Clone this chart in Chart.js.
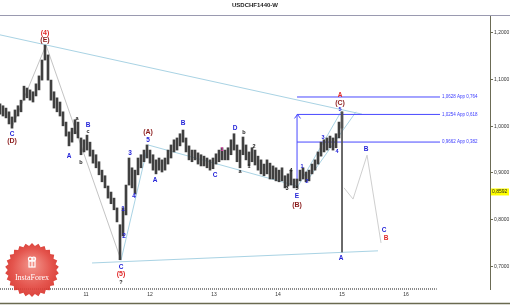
<!DOCTYPE html>
<html><head><meta charset="utf-8">
<script src="https://cdn.jsdelivr.net/npm/chart.js@4.4.1/dist/chart.umd.min.js"></script>
<style>html,body{margin:0;padding:0;background:#fff;overflow:hidden}canvas{display:block}</style>
</head><body>
<canvas id="c" width="510" height="305"></canvas>
<script>
const chartTitle = 'USDCHF1440-W';
const startYear = 2009.656;
const yearStep = 0.046875;
const highs = [1.048,1.044,1.039,1.031,1.020,1.035,1.044,1.056,1.086,1.082,
  1.078,1.074,1.091,1.108,1.142,1.174,1.153,1.099,1.074,1.061,
  1.052,1.031,1.009,0.988,0.996,1.014,1.009,0.975,0.971,0.981,
  0.966,0.949,0.939,0.924,0.906,0.894,0.872,0.859,0.846,0.825,
  0.789,0.825,0.874,0.932,0.911,0.906,0.932,0.939,0.949,0.960,
  0.949,0.939,0.928,0.932,0.928,0.932,0.949,0.960,0.971,0.975,
  0.984,0.992,0.975,0.958,0.949,0.949,0.943,0.939,0.936,0.932,
  0.928,0.932,0.941,0.949,0.954,0.949,0.954,0.971,0.984,0.960,
  0.949,0.977,0.960,0.945,0.954,0.949,0.936,0.928,0.919,0.928,
  0.921,0.915,0.911,0.906,0.911,0.894,0.898,0.906,0.887,0.887,
  0.906,0.911,0.902,0.906,0.919,0.928,0.945,0.966,0.971,0.975,
  0.979,0.975,0.984,1.009,1.031];
const lows = [1.026,1.022,1.018,1.005,0.996,1.009,1.022,1.031,1.056,1.061,
  1.056,1.052,1.065,1.078,1.099,1.142,1.099,1.056,1.039,1.031,
  1.022,1.001,0.979,0.958,0.966,0.984,0.975,0.939,0.945,0.949,
  0.936,0.921,0.911,0.896,0.881,0.868,0.846,0.834,0.821,0.795,
  0.714,0.765,0.810,0.874,0.868,0.855,0.896,0.911,0.924,0.932,
  0.921,0.906,0.898,0.906,0.902,0.906,0.919,0.932,0.945,0.949,
  0.958,0.966,0.945,0.928,0.924,0.928,0.919,0.915,0.915,0.911,
  0.906,0.909,0.919,0.924,0.928,0.928,0.928,0.939,0.949,0.924,
  0.911,0.939,0.928,0.915,0.924,0.917,0.906,0.898,0.894,0.898,
  0.887,0.887,0.883,0.881,0.883,0.868,0.872,0.874,0.868,0.868,
  0.883,0.887,0.881,0.883,0.898,0.906,0.919,0.936,0.945,0.949,
  0.954,0.949,0.954,0.975,0.996];
const yearTicks = [2011,2012,2013,2014,2015,2016];
const priceTicks = [0.7,0.8,0.9,1.0,1.1,1.2];
const lastPrice = 0.8592;
const fibLevels = [1.0628,1.0254,0.9662];
const fibTexts = ['1,0628 App 0,764','1,0254 App 0,618','0,9662 App 0,382'];
const fibStart = 2014.297, fibEnd = 2016.531, fibBase = 0.868;
const blueTrends = [
  [[2009.656,1.196],[2015.312,1.026]],
  [[2011.547,0.713],[2011.969,0.960]],
  [[2011.969,0.960],[2014.297,0.872]],
  [[2014.297,0.868],[2014.984,1.031]],
  [[2014.453,0.883],[2015.219,1.031]],
  [[2011.094,0.707],[2015.562,0.733]]
];
const greyTrends = [
  [[2009.844,0.998],[2010.375,1.174]],
  [[2010.375,1.174],[2011.547,0.713]]
];
const projection = [[2015.031,0.868],[2015.172,0.844],[2015.391,0.938],[2015.609,0.750]];
const markerLine = [[2015.0,1.031],[2015.0,0.730]];
// label: text, year, price, colour key, size key
const waveLabels = [
  ['(4)',2010.359,1.200,'r','L'],['(E)',2010.359,1.185,'d','L'],
  ['C',2009.844,0.983,'b','M'],['(D)',2009.844,0.968,'d','L'],
  ['A',2010.734,0.936,'b','M'],['a',2010.859,1.016,'k','S'],
  ['B',2011.031,1.002,'b','M'],['c',2011.031,0.988,'k','S'],['b',2010.922,0.923,'k','S'],
  ['3',2011.688,0.943,'b','M'],['4',2011.750,0.851,'b','M'],['1',2011.578,0.823,'b','M'],['2',2011.594,0.765,'b','M'],
  ['C',2011.547,0.698,'b','M'],['(5)',2011.547,0.683,'r','L'],['?',2011.547,0.666,'k','S'],
  ['(A)',2011.969,0.988,'d','L'],['5',2011.969,0.971,'b','M'],
  ['A',2012.078,0.885,'b','M'],['B',2012.516,1.007,'b','M'],['C',2013.016,0.896,'b','M'],
  ['1',2013.125,0.950,'p','S'],
  ['D',2013.328,0.996,'b','M'],['a',2013.406,0.904,'k','S'],['b',2013.469,0.986,'k','S'],
  ['1',2013.547,0.913,'k','S'],['2',2013.625,0.956,'k','S'],
  ['3',2014.141,0.866,'k','S'],['4',2014.203,0.906,'k','S'],['5',2014.297,0.866,'k','S'],
  ['E',2014.297,0.851,'b','M'],['(B)',2014.297,0.831,'d','L'],
  ['1',2014.375,0.913,'b','S'],['2',2014.453,0.881,'b','S'],['3',2014.703,0.975,'b','S'],
  ['4',2014.922,0.947,'b','S'],['5',2014.969,1.037,'b','S'],
  ['A',2014.969,1.067,'r','M'],['(C)',2014.969,1.050,'d','L'],
  ['B',2015.375,0.951,'b','M'],['C',2015.656,0.778,'b','M'],['B',2015.688,0.761,'r','M'],
  ['A',2014.984,0.718,'b','M']
];
const colours = {r:'#e02828', d:'#8b1c1c', b:'#2424d8', k:'#222222', p:'#ff40c0'};
const sizes = {L:'bold 7px "Liberation Sans"', M:'bold 6.5px "Liberation Sans"', S:'bold 5.5px "Liberation Sans"'};

const pts = a => a.map(p => ({x:p[0], y:p[1]}));
const datasets = [{
  type:'bar',
  data: highs.map((h,i)=>({x:startYear + i*yearStep, y:[lows[i], h]})),
  backgroundColor:'#404040', barThickness:2, borderWidth:0, order:1
}];
blueTrends.forEach(l=>datasets.push({type:'line',data:pts(l),borderColor:'#a9d3e4',borderWidth:1,pointRadius:0,fill:false,order:3}));
greyTrends.forEach(l=>datasets.push({type:'line',data:pts(l),borderColor:'#c4c4c4',borderWidth:1,pointRadius:0,fill:false,order:3}));
datasets.push({type:'line',data:pts(projection),borderColor:'#cfcfcf',borderWidth:1,pointRadius:0,fill:false,tension:0,order:3});
datasets.push({type:'line',data:pts(markerLine),borderColor:'#555555',borderWidth:1,pointRadius:0,fill:false,order:0});
fibLevels.forEach(v=>datasets.push({type:'line',data:[{x:fibStart,y:v},{x:fibEnd,y:v}],borderColor:'#4848ff',borderWidth:1,pointRadius:0,fill:false,order:2}));
datasets.push({type:'line',data:[{x:fibStart,y:fibBase},{x:fibStart,y:fibLevels[1]}],borderColor:'#4848ff',borderWidth:1,pointRadius:0,fill:false,order:2});

const fmt = v => v.toFixed(4).replace('.',',');

const decor = {
  id:'decor',
  beforeDraw(chart){
    const c = chart.ctx;
    c.save(); c.fillStyle='#ffffff'; c.fillRect(0,0,chart.width,chart.height); c.restore();
  },
  afterDatasetsDraw(chart){
    const c = chart.ctx, xs = chart.scales.x, ys = chart.scales.y, a = chart.chartArea;
    c.save();
    // arrow head on fib vertical
    const ax = Math.round(xs.getPixelForValue(fibStart))+0.5, ay = ys.getPixelForValue(fibLevels[1]);
    c.strokeStyle='#4848ff'; c.lineWidth=1;
    c.beginPath(); c.moveTo(ax-3,ay+4); c.lineTo(ax,ay); c.lineTo(ax+3,ay+4); c.stroke();
    // fib texts
    c.font='4.5px "Liberation Sans"'; c.fillStyle='#3a3aff'; c.textAlign='left'; c.textBaseline='middle';
    fibLevels.forEach((v,i)=>c.fillText(fibTexts[i], xs.getPixelForValue(fibEnd)+2, ys.getPixelForValue(v)));
    // wave labels
    c.textAlign='center';
    waveLabels.forEach(l=>{
      c.font = sizes[l[4]]; c.fillStyle = colours[l[3]];
      c.fillText(l[0], xs.getPixelForValue(l[1]), ys.getPixelForValue(l[2]));
    });
    c.restore();
  },
  afterDraw(chart){
    const c = chart.ctx, xs = chart.scales.x, ys = chart.scales.y, a = chart.chartArea;
    c.save();
    // title
    c.font='bold 6px "Liberation Sans"'; c.fillStyle='#222'; c.textAlign='center'; c.textBaseline='middle';
    c.fillText(chartTitle, 255, 5);
    // separator
    c.strokeStyle='#9a9ab0'; c.lineWidth=1;
    c.beginPath(); c.moveTo(0,a.top-0.5); c.lineTo(chart.width,a.top-0.5); c.stroke();
    // hatched x axis
    c.strokeStyle='#8a8a8a'; c.setLineDash([1,1]); c.lineWidth=2;
    c.beginPath(); c.moveTo(0,a.bottom); c.lineTo(xs.getPixelForValue(2016.48),a.bottom); c.stroke();
    c.setLineDash([]);
    // bottom border
    c.strokeStyle='#6a6a50'; c.lineWidth=1.5;
    c.beginPath(); c.moveTo(0,chart.height-1.5); c.lineTo(chart.width,chart.height-1.5); c.stroke();
    // last price label
    const py = ys.getPixelForValue(lastPrice);
    c.fillStyle='#ffff00'; c.fillRect(a.right+1, py-3.5, 18, 7);
    c.font='5px "Liberation Sans"'; c.fillStyle='#222'; c.textAlign='left';
    c.fillText(fmt(lastPrice), a.right+2, py);
    // logo
    const cx=32, cy=270, r=27;
    c.beginPath();
    const n=26;
    for(let i=0;i<n*2;i++){const ang=i*Math.PI/n; const rr=i%2?r:r*0.9; c.lineTo(cx+rr*Math.cos(ang), cy+rr*Math.sin(ang));}
    c.closePath();
    const g=c.createRadialGradient(cx,cy-6,2,cx,cy,r);
    g.addColorStop(0,'#f0867c'); g.addColorStop(0.7,'#e2463e'); g.addColorStop(1,'#d8342c');
    c.globalAlpha=0.92; c.fillStyle=g; c.fill(); c.globalAlpha=1;
    c.fillStyle='#ffffff'; c.font='8px "Liberation Serif"'; c.textAlign='center'; c.textBaseline='middle';
    c.fillText('InstaForex', cx, cy+8);
    c.strokeStyle='#ffffff'; c.lineWidth=1.2;
    c.strokeRect(cx-3, cy-9, 6, 6);
    c.beginPath(); c.moveTo(cx, cy-9); c.lineTo(cx, cy-3); c.stroke();
    c.beginPath(); c.arc(cx-1.8, cy-11, 1.8, 0, Math.PI*2); c.arc(cx+1.8, cy-11, 1.8, 0, Math.PI*2); c.stroke();
    c.restore();
  }
};

new Chart(document.getElementById('c'), {
  type:'bar',
  data:{datasets},
  options:{
    responsive:false, animation:false, devicePixelRatio:1,
    layout:{padding:{top:16,left:0,right:0,bottom:0}},
    plugins:{legend:{display:false}, tooltip:{enabled:false}},
    scales:{
      x:{type:'linear', min:2009.656, max:2017.312, offset:false,
        afterBuildTicks(s){ s.ticks = yearTicks.map(v=>({value:v})); },
        afterFit(s){ s.height = 16; },
        grid:{display:false, drawTicks:false}, border:{display:false},
        ticks:{padding:3, font:{size:5, family:'Liberation Sans'}, color:'#333',
          maxRotation:0, autoSkip:false, callback:v=>String(v).slice(2)}},
      y:{type:'linear', position:'right', min:0.6512, max:1.2364,
        afterBuildTicks(s){ s.ticks = priceTicks.map(v=>({value:v})); },
        afterFit(s){ s.width = 20; },
        grid:{drawOnChartArea:false, drawTicks:true, tickLength:3, color:'#6b6b55'},
        border:{display:true, color:'#6b6b55', width:1},
        ticks:{padding:1, font:{size:5, family:'Liberation Sans'}, color:'#333', callback:v=>fmt(v)}}
    }
  },
  plugins:[decor]
});
</script>
</body></html>
